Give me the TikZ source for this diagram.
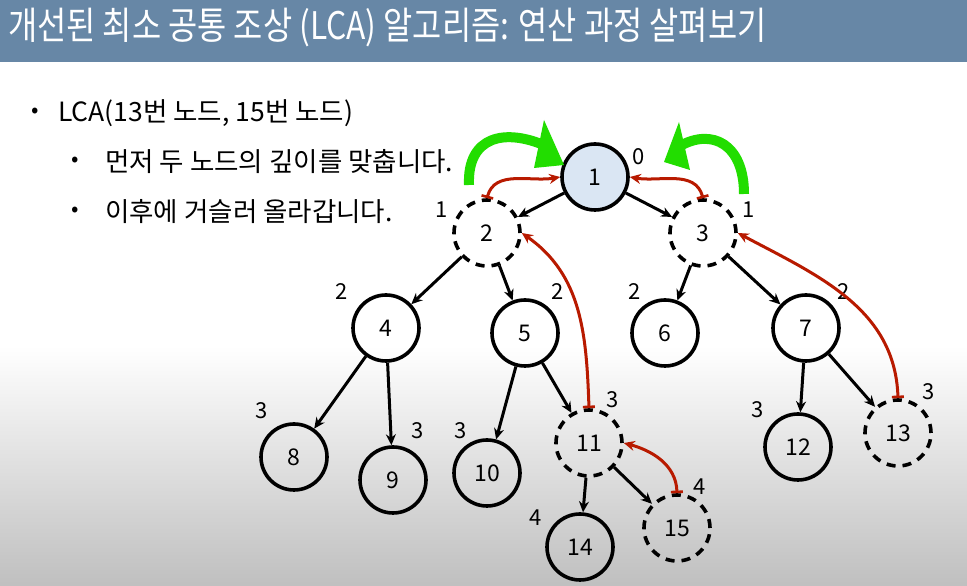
\documentclass[tikz,border=0pt]{standalone}
\usepackage{fontspec}
\setmainfont{Noto Sans CJK KR}
\usetikzlibrary{arrows.meta}
\definecolor{titlebg}{HTML}{6787A6}
\definecolor{redarr}{HTML}{B81A00}
\definecolor{greenarr}{HTML}{22DD00}
\definecolor{rootfill}{HTML}{DAE6F3}
\tikzset{
  tnode/.style={circle, draw=black, line width=3.6pt, minimum size=66pt, inner sep=0pt, font=\fontsize{23}{25}\selectfont},
  dnode/.style={tnode, dash pattern=on 9pt off 7pt},
  edge/.style={line width=3pt, -{Stealth[length=11pt,width=10pt]}},
  back/.style={draw=redarr, line width=3pt, {Bar[width=12pt,line width=2.6pt]}-{Stealth[length=11pt,width=10pt]}},
  depth/.style={font=\fontsize{22}{24}\selectfont, inner sep=0pt},
  bodytxt/.style={anchor=west, inner sep=0pt, font=\fontsize{26.5}{30}\selectfont},
  bul/.style={inner sep=0pt, font=\fontsize{22}{24}\selectfont},
  greenline/.style={draw=greenarr, line width=10pt},
}
\begin{document}
\begin{tikzpicture}[x=1pt,y=1pt]
\useasboundingbox (0,0) rectangle (967,586);
% background
\fill[white] (0,0) rectangle (967,586);
\shade[top color=white, bottom color=black!25] (0,0) rectangle (967,240);
\fill[titlebg] (0,524) rectangle (967,586);
\node[anchor=west, inner sep=0pt, text=white] (title) at (8,558)
  {\scalebox{0.835}[1]{\fontsize{38}{40}\selectfont 개선된 최소 공통 조상 (LCA) 알고리즘: 연산 과정 살펴보기}};
% bullets
\node[bul] (b1) at (35,473) {•};
\node[bodytxt] (t1) at (58,473) {LCA(13번 노드, 15번 노드)};
\node[bul] (b2) at (75,424) {•};
\node[bodytxt] (t2) at (105,424) {먼저 두 노드의 깊이를 맞춥니다.};
\node[bul] (b3) at (75,374) {•};
\node[bodytxt] (t3) at (105,374) {이후에 거슬러 올라갑니다.};
% nodes
\node[tnode, fill=rootfill] (n1) at (595,409) {1};
\node[dnode] (n2) at (487,353) {2};
\node[dnode] (n3) at (703,353) {3};
\node[tnode] (n4) at (386,258) {4};
\node[tnode] (n5) at (525,253) {5};
\node[tnode] (n6) at (665,253) {6};
\node[tnode] (n7) at (806,258) {7};
\node[tnode] (n8) at (294,129) {8};
\node[tnode] (n9) at (393,106) {9};
\node[tnode] (n10) at (487,113) {10};
\node[dnode] (n11) at (589,143) {11};
\node[tnode] (n12) at (798,139) {12};
\node[dnode] (n13) at (898,153) {13};
\node[tnode] (n14) at (580,39) {14};
\node[dnode] (n15) at (677,58) {15};
% depth labels
\node[depth] (d1) at (639,429) {0};
\node[depth] (d2) at (442,376) {1};
\node[depth] (d3) at (749,376) {1};
\node[depth] (d4) at (342,294) {2};
\node[depth] (d5) at (558,294) {2};
\node[depth] (d6) at (635,294) {2};
\node[depth] (d7) at (844,294) {2};
\node[depth] (d8) at (262,175) {3};
\node[depth] (d9) at (418,155) {3};
\node[depth] (d10) at (461,155) {3};
\node[depth] (d11) at (613,186) {3};
\node[depth] (d12) at (758,176) {3};
\node[depth] (d13) at (929,194) {3};
\node[depth] (d14) at (536,68) {4};
\node[depth] (d15) at (700,99) {4};
% tree edges
\draw[edge] (n1) -- (n2);
\draw[edge] (n1) -- (n3);
\draw[edge] (n2) -- (n4);
\draw[edge] (n2) -- (n5);
\draw[edge] (n3) -- (n6);
\draw[edge] (n3) -- (n7);
\draw[edge] (n4) -- (n8);
\draw[edge] (n4) -- (n9);
\draw[edge] (n5) -- (n10);
\draw[edge] (n5) -- (n11);
\draw[edge] (n7) -- (n12);
\draw[edge] (n7) -- (n13);
\draw[edge] (n11) -- (n14);
\draw[edge] (n11) -- (n15);
% red back arrows
\draw[back] (n2.north) to[out=75,in=190] (n1.west);
\draw[back] (n3.north) to[out=105,in=-10] (n1.east);
\draw[back] (n11.north) to[out=92,in=-35] (n2.east);
\draw[back] (n13.north) to[out=92,in=-28] (n3.east);
\draw[back] (n15.north) to[out=92,in=-15] (n11.east);
% green hand-drawn arrows
\coordinate (gl0) at (469,401);
\coordinate (gl1) at (546,440);
\draw[greenline] (gl0) .. controls (467,450) and (505,458) .. (gl1);
\fill[greenarr] (544,466) -- (564,421) -- (534,418) -- cycle;
\coordinate (gr0) at (744,392);
\coordinate (gr1) at (680,440);
\draw[greenline] (gr0) .. controls (744,442) and (712,458) .. (gr1);
\fill[greenarr] (679,464) -- (664,424) -- (690,416) -- cycle;
\end{tikzpicture}
\end{document}
